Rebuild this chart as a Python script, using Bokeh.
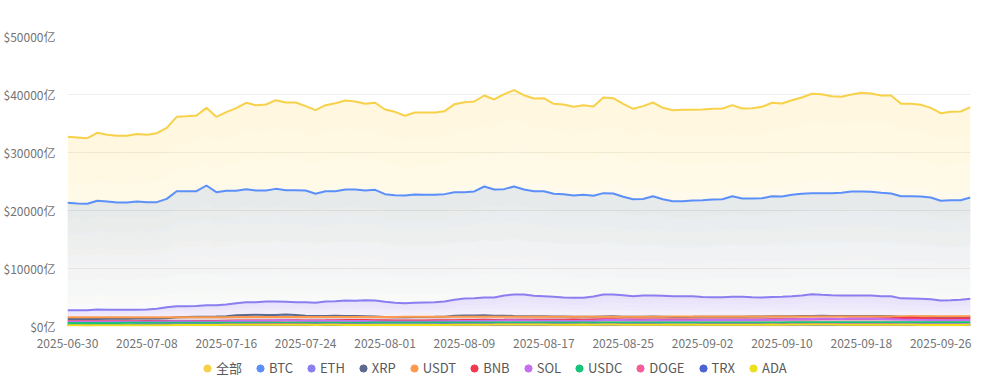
import pandas as pd
from bokeh.plotting import figure
from bokeh.layouts import column
from bokeh.models import (FixedTicker, PrintfTickFormatter, Legend, LegendItem,
                          DatetimeTickFormatter, Range1d)
from bokeh.embed import file_html
from bokeh.resources import INLINE

# ---------------- data ----------------
start_date = "2025-06-30"
n_days = 92
dates = pd.date_range(start_date, periods=n_days, freq="D")

tick_dates = ["2025-06-30", "2025-07-08", "2025-07-16", "2025-07-24", "2025-08-01",
              "2025-08-09", "2025-08-17", "2025-08-25", "2025-09-02", "2025-09-10",
              "2025-09-18", "2025-09-26"]
y_ticks = [0, 10000, 20000, 30000, 40000, 50000]

names = ["全部", "BTC", "ETH", "XRP", "USDT", "BNB", "SOL", "USDC", "DOGE", "TRX", "ADA"]
colors = ["#f7d14a", "#5b8ff9", "#8a7ef0", "#5d6a8f", "#ff9a4d", "#f0394f",
          "#c46ef0", "#17c47a", "#f45c9a", "#4c63d6", "#ecdf1c"]

all_vals = [32700, 32600, 32470, 33400, 33050, 32870, 32870, 33200, 33050, 33330,
            34250, 36150, 36260, 36380, 37700, 36150, 36950, 37640, 38570, 38160,
            38280, 39020, 38620, 38620, 37990, 37300, 38160, 38500, 38970, 38790,
            38390, 38570, 37410, 37010, 36330, 36900, 36900, 36900, 37130, 38330,
            38670, 38790, 39830, 39140, 40060, 40750, 39880, 39310, 39370, 38390,
            38280, 37880, 38160, 37930, 39480, 39370, 38390, 37530, 37990, 38620,
            37700, 37300, 37360, 37360, 37400, 37530, 37590, 38160, 37590, 37640,
            37880, 38570, 38450, 39020, 39480, 40120, 40060, 39710, 39600, 40000,
            40290, 40170, 39830, 39830, 38390, 38390, 38220, 37700, 36780, 37010,
            37070, 37820]
btc = [21330, 21210, 21150, 21670, 21550, 21380, 21380, 21550, 21440, 21440,
       22010, 23330, 23330, 23330, 24310, 23160, 23390, 23390, 23680, 23450,
       23450, 23730, 23500, 23500, 23450, 22880, 23330, 23330, 23620, 23620,
       23450, 23560, 22820, 22640, 22590, 22760, 22700, 22700, 22820, 23160,
       23160, 23280, 24140, 23620, 23680, 24140, 23620, 23330, 23330, 22880,
       22820, 22590, 22700, 22530, 22990, 22930, 22360, 21950, 21990, 22470,
       21950, 21610, 21610, 21720, 21780, 21900, 21950, 22470, 22070, 22070,
       22130, 22470, 22410, 22700, 22880, 22990, 22990, 22990, 23050, 23280,
       23280, 23220, 23050, 22930, 22470, 22470, 22410, 22240, 21670, 21780,
       21780, 22240]
eth = [2810, 2810, 2810, 2930, 2900, 2870, 2870, 2900, 2950, 3050,
       3300, 3500, 3510, 3550, 3680, 3650, 3790, 4020, 4200, 4200,
       4310, 4300, 4250, 4200, 4200, 4080, 4310, 4370, 4480, 4450,
       4530, 4480, 4250, 4080, 4020, 4080, 4140, 4200, 4310, 4600,
       4830, 4850, 5000, 5000, 5340, 5520, 5500, 5290, 5230, 5120,
       5000, 4940, 4960, 5170, 5520, 5500, 5400, 5230, 5340, 5340,
       5300, 5230, 5200, 5200, 5080, 5030, 5060, 5150, 5140, 5050,
       5000, 5080, 5110, 5200, 5350, 5570, 5470, 5400, 5340, 5360,
       5340, 5340, 5230, 5230, 4850, 4830, 4770, 4680, 4490, 4540,
       4600, 4770]
xrp = [1290, 1290, 1300, 1310, 1340, 1330, 1340, 1370, 1380, 1400,
       1430, 1600, 1640, 1680, 1700, 1720, 1780, 1950, 2000, 2030,
       1980, 1990, 2050, 2000, 1850, 1800, 1830, 1850, 1800, 1790,
       1770, 1720, 1650, 1610, 1610, 1620, 1640, 1660, 1700, 1850,
       1900, 1880, 1920, 1870, 1850, 1810, 1780, 1760, 1770, 1740,
       1720, 1680, 1690, 1690, 1740, 1760, 1700, 1660, 1690, 1720,
       1680, 1640, 1650, 1660, 1680, 1690, 1680, 1700, 1700, 1720,
       1730, 1760, 1760, 1780, 1810, 1830, 1840, 1820, 1830, 1810,
       1800, 1800, 1790, 1780, 1700, 1690, 1680, 1660, 1590, 1610,
       1630, 1690]
usdt = [1585, 1586, 1586, 1588, 1590, 1591, 1591, 1593, 1595, 1596,
        1598, 1600, 1602, 1605, 1608, 1612, 1615, 1619, 1622, 1626,
        1630, 1633, 1636, 1639, 1641, 1643, 1645, 1646, 1648, 1650,
        1652, 1654, 1656, 1658, 1660, 1662, 1664, 1666, 1668, 1670,
        1672, 1674, 1675, 1677, 1678, 1680, 1682, 1683, 1685, 1686,
        1688, 1689, 1690, 1692, 1693, 1694, 1696, 1697, 1698, 1700,
        1701, 1703, 1704, 1706, 1707, 1709, 1710, 1712, 1713, 1715,
        1717, 1718, 1720, 1722, 1724, 1726, 1728, 1730, 1732, 1734,
        1736, 1738, 1740, 1742, 1744, 1746, 1748, 1750, 1752, 1755,
        1758, 1762]
bnb = [905, 900, 895, 905, 910, 905, 910, 920, 935, 950,
       960, 960, 965, 960, 965, 960, 990, 1020, 1030, 1040,
       1030, 1050, 1060, 1070, 1050, 1040, 1060, 1090, 1100, 1110,
       1100, 1070, 1060, 1050, 1030, 1040, 1050, 1060, 1070, 1090,
       1120, 1130, 1150, 1140, 1150, 1170, 1180, 1160, 1150, 1160,
       1150, 1190, 1180, 1210, 1240, 1230, 1200, 1190, 1200, 1210,
       1190, 1200, 1190, 1200, 1210, 1200, 1195, 1210, 1200, 1205,
       1210, 1230, 1240, 1250, 1260, 1270, 1290, 1300, 1310, 1330,
       1340, 1350, 1390, 1420, 1470, 1500, 1460, 1440, 1370, 1390,
       1410, 1430]
sol = [810, 810, 800, 820, 830, 815, 810, 820, 830, 850,
       860, 890, 900, 880, 880, 870, 920, 960, 960, 980,
       1010, 1060, 1070, 1030, 1010, 980, 990, 1000, 970, 960,
       950, 920, 880, 870, 860, 870, 880, 890, 900, 950,
       960, 950, 1000, 1010, 1040, 1070, 1050, 1020, 1010, 990,
       990, 960, 980, 980, 1100, 1120, 1110, 1080, 1090, 1100,
       1080, 1070, 1060, 1090, 1100, 1110, 1120, 1110, 1100, 1130,
       1150, 1170, 1190, 1220, 1260, 1290, 1320, 1330, 1300, 1320,
       1340, 1330, 1290, 1250, 1200, 1180, 1150, 1130, 1070, 1090,
       1110, 1130]
usdc = [615, 617, 618, 620, 622, 625, 628, 630, 632, 635,
        637, 640, 642, 644, 645, 646, 648, 650, 652, 655,
        656, 658, 660, 662, 663, 664, 665, 666, 667, 668,
        668, 669, 670, 671, 672, 674, 675, 676, 677, 678,
        679, 680, 681, 682, 683, 684, 685, 686, 687, 688,
        688, 689, 690, 691, 692, 692, 693, 694, 695, 696,
        697, 698, 699, 700, 701, 702, 703, 704, 705, 706,
        707, 708, 710, 712, 714, 716, 718, 720, 722, 724,
        726, 728, 729, 730, 731, 732, 733, 734, 735, 736,
        737, 738]
doge = [240, 238, 235, 245, 250, 248, 250, 255, 265, 285,
        300, 305, 300, 295, 300, 295, 330, 350, 365, 375,
        390, 400, 395, 380, 360, 350, 355, 360, 340, 330,
        320, 300, 290, 295, 290, 300, 305, 310, 320, 345,
        350, 345, 360, 355, 360, 370, 350, 340, 335, 330,
        325, 320, 330, 320, 350, 345, 330, 320, 325, 330,
        320, 315, 310, 320, 325, 330, 325, 330, 335, 340,
        350, 360, 370, 400, 410, 420, 415, 410, 400, 405,
        400, 395, 385, 375, 350, 345, 340, 335, 330, 335,
        340, 350]
trx = [270, 272, 272, 274, 276, 278, 280, 282, 285, 288,
       290, 292, 295, 296, 298, 300, 305, 310, 312, 315,
       318, 320, 322, 318, 315, 312, 315, 318, 320, 322,
       320, 318, 310, 308, 310, 312, 315, 320, 325, 330,
       335, 340, 338, 335, 340, 342, 340, 338, 335, 330,
       328, 325, 330, 332, 335, 335, 330, 325, 328, 330,
       325, 322, 320, 322, 325, 328, 330, 332, 330, 335,
       332, 330, 328, 326, 325, 322, 320, 322, 320, 318,
       316, 315, 312, 310, 305, 300, 298, 296, 295, 298,
       300, 302]
ada = [200, 198, 196, 202, 206, 204, 205, 210, 215, 225,
       230, 250, 255, 255, 260, 258, 285, 300, 305, 310,
       315, 320, 310, 300, 290, 280, 285, 290, 280, 275,
       265, 255, 250, 248, 250, 255, 260, 265, 275, 295,
       300, 310, 320, 330, 345, 355, 340, 330, 325, 320,
       315, 310, 330, 320, 340, 335, 320, 305, 310, 315,
       305, 300, 298, 300, 305, 310, 310, 315, 312, 318,
       320, 325, 320, 330, 335, 340, 330, 325, 320, 322,
       318, 315, 310, 305, 290, 285, 280, 275, 270, 275,
       280, 290]

series = [all_vals, btc, eth, xrp, usdt, bnb, sol, usdc, doge, trx, ada]

FONT = "Noto Sans CJK SC"

# ---------------- main chart ----------------
p = figure(width=984, height=350, x_axis_type="datetime",
           output_backend="svg", toolbar_location=None,
           x_range=Range1d(dates[0], dates[-1]), y_range=Range1d(0, 50000),
           min_border_left=58, min_border_right=14, min_border_top=36, min_border_bottom=24)
p.outline_line_color = None
p.background_fill_color = "white"
p.border_fill_color = "white"

# gradient-like area fills (stacked translucent layers)
N_LAYERS = 8
for vals, c in zip(series, colors):
    src = pd.Series(vals, dtype=float)
    for k in range(N_LAYERS):
        f = k / N_LAYERS
        p.varea(x=dates, y1=(src * f).values, y2=src.values,
                fill_color=c, fill_alpha=0.02)

for vals, c in zip(series, colors):
    p.line(x=dates, y=vals, line_color=c, line_width=2)

p.yaxis.ticker = FixedTicker(ticks=y_ticks)
p.yaxis.formatter = PrintfTickFormatter(format="$%d亿")
p.yaxis.axis_line_color = None
p.yaxis.major_tick_line_color = None
p.yaxis.minor_tick_line_color = None
p.yaxis.major_label_standoff = 6
p.yaxis.major_label_text_font = FONT
p.yaxis.major_label_text_font_size = "12px"
p.yaxis.major_label_text_color = "#737373"

tick_ms = [int(pd.Timestamp(d).value // 10**6) for d in tick_dates]
p.xaxis.ticker = FixedTicker(ticks=tick_ms)
fmt = "%Y-%m-%d"
p.xaxis.formatter = DatetimeTickFormatter(days=fmt, months=fmt, years=fmt, hours=fmt,
                                          hourmin=fmt, minutes=fmt, minsec=fmt,
                                          seconds=fmt, milliseconds=fmt, microseconds=fmt)
p.xaxis.axis_line_color = None
p.xaxis.major_tick_line_color = None
p.xaxis.minor_tick_line_color = None
p.xaxis.major_label_standoff = 6
p.xaxis.major_label_text_font = FONT
p.xaxis.major_label_text_font_size = "12px"
p.xaxis.major_label_text_color = "#737373"

p.xgrid.grid_line_color = None
p.ygrid.ticker = FixedTicker(ticks=y_ticks)
p.ygrid.grid_line_color = "#efefef"
p.ygrid.grid_line_width = 1

# ---------------- legend strip ----------------
lf = figure(width=984, height=34, output_backend="svg", toolbar_location=None,
            x_range=Range1d(0, 1), y_range=Range1d(0, 1),
            x_axis_location=None, y_axis_location=None,
            min_border_left=0, min_border_right=0, min_border_top=0, min_border_bottom=0)
lf.outline_line_color = None
lf.xgrid.grid_line_color = None
lf.ygrid.grid_line_color = None

items = []
for name, c in zip(names, colors):
    # placeholder point outside the visible range: only its legend dot is shown
    r = lf.scatter(x=[5], y=[5], marker="circle", size=8, fill_color=c, line_color=c)
    items.append(LegendItem(label=name, renderers=[r]))
legend = Legend(items=items, orientation="horizontal", location=(131, 7),
                glyph_width=18, glyph_height=18, label_standoff=0, spacing=9,
                padding=0, margin=0, border_line_color=None, background_fill_alpha=0,
                label_text_font=FONT, label_text_font_size="13px",
                label_text_color="#595959", label_height=18)
lf.add_layout(legend)

open("out.html", "w").write(file_html(column(p, lf, spacing=0), INLINE))
